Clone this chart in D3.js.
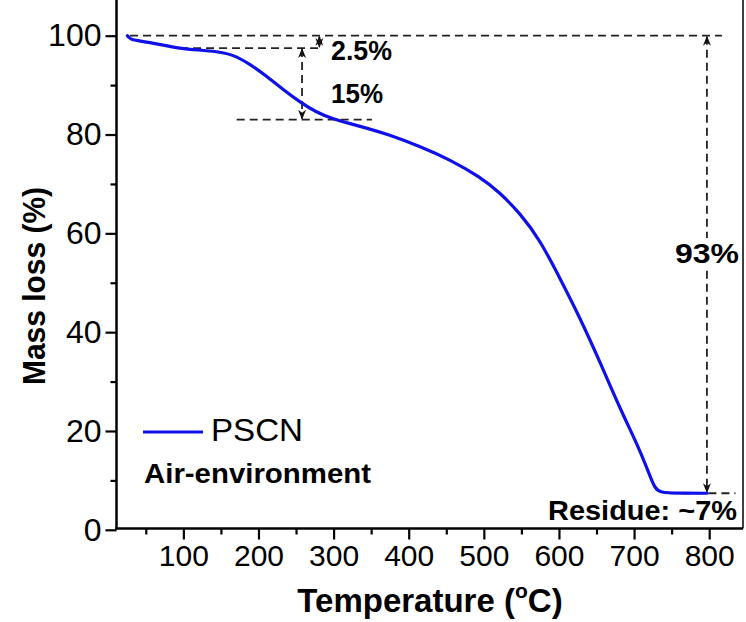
<!DOCTYPE html>
<html><head><meta charset="utf-8">
<script src="https://cdn.jsdelivr.net/npm/d3@7"></script>
<style>
html,body{margin:0;padding:0;background:#fff;}
svg{display:block;font-family:"Liberation Sans",Arial,sans-serif;}
</style></head>
<body>
<svg id="chart" width="746" height="622"></svg>
<script>
// ---- data ----
const temperature = [25.5, 28, 31, 40, 56, 69, 96, 120, 144, 166, 189, 211, 233, 255, 277, 300, 322, 344, 371, 415, 455, 495, 521, 548, 575, 601, 628, 654.5, 681, 708, 721, 727.6, 734, 760, 797];
const massLoss    = [100, 99.6, 99.2, 99.0, 98.6, 98.2, 97.4, 97.1, 96.8, 96.2, 94.2, 91.8, 89.1, 86.6, 84.5, 83.1, 82.2, 81.3, 80.1, 77.6, 74.9, 71.4, 68.3, 64.1, 58.6, 51.0, 42.9, 34.0, 24.6, 16.1, 10.9, 8.5, 7.5, 7.4, 7.4];
const xMajorTicks = [100, 200, 300, 400, 500, 600, 700, 800];
const xMinorTicks = [50, 150, 250, 350, 450, 550, 650, 750];
const yMajorTicks = [0, 20, 40, 60, 80, 100];
const yMinorTicks = [10, 30, 50, 70, 90];
const seriesName = "PSCN";
// annotation values (data space)
const initialMass = 100, stage1Mass = 97.5, stage2Mass = 83.0, residueMass = 7.4;
const stage1Label = "2.5%", stage2Label = "15%", totalLabel = "93%", residueLabel = "Residue: ~7%";

const svg = d3.select("#chart");
const x = d3.scaleLinear().domain([11, 845]).range([116.5, 743]);
const y = d3.scaleLinear().domain([0, 100]).range([529.8, 35.7]);
const axisY = 528.5;
const FONT = "Liberation Sans, Arial, sans-serif";

// defs: arrow markers
const defs = svg.append("defs");
["arrEnd","arrStart"].forEach((id,i)=>{
  defs.append("marker").attr("id",id).attr("viewBox","0 0 10 10")
    .attr("refX", 9).attr("refY",5).attr("markerWidth",10).attr("markerHeight",10)
    .attr("markerUnits","userSpaceOnUse")
    .attr("orient", i===0 ? "auto" : "auto-start-reverse")
    .append("path").attr("d","M0,1 L10,5 L0,9 L3,5 Z").attr("fill","#111");
});

// frame lines
svg.append("line").attr("x1",116.5).attr("x2",116.5).attr("y1",0).attr("y2",axisY+1)
  .attr("stroke","#000").attr("stroke-width",2.5);
svg.append("line").attr("x1",743).attr("x2",743).attr("y1",0).attr("y2",axisY)
  .attr("stroke","#000").attr("stroke-width",1.5);

// x axis
const xAxis = d3.axisBottom(x).tickValues(xMajorTicks).tickSize(11).tickSizeOuter(0).tickPadding(5);
const gx = svg.append("g").attr("transform",`translate(0,${axisY})`).call(xAxis);
gx.select(".domain").attr("stroke-width",2.5).attr("d",`M115.3,0H743`);
gx.selectAll(".tick line").attr("stroke-width",2.2);
gx.selectAll(".tick text").attr("font-size",30).attr("fill","#000").attr("font-family",FONT);
const gxm = svg.append("g").attr("transform",`translate(0,${axisY})`)
  .call(d3.axisBottom(x).tickValues(xMinorTicks).tickSize(6).tickFormat(""));
gxm.select(".domain").remove();
gxm.selectAll(".tick line").attr("stroke-width",2.2);

// y axis
const yAxis = d3.axisLeft(y).tickValues(yMajorTicks).tickSize(11).tickSizeOuter(0).tickPadding(4);
const gy = svg.append("g").attr("transform","translate(116.5,0)").call(yAxis);
gy.select(".domain").remove();
gy.selectAll(".tick line").attr("stroke-width",2.2);
gy.selectAll(".tick text").attr("font-size",32).attr("fill","#000").attr("font-family",FONT);
const gym = svg.append("g").attr("transform","translate(116.5,0)")
  .call(d3.axisLeft(y).tickValues(yMinorTicks).tickSize(6).tickFormat(""));
gym.select(".domain").remove();
gym.selectAll(".tick line").attr("stroke-width",2.2);

// annotations: dashed guide lines
const dash = {stroke:"#222","stroke-width":1.8,"stroke-dasharray":"8,5",fill:"none"};
function dline(x1,y1,x2,y2,markers){
  const l = svg.append("line").attr("x1",x1).attr("y1",y1).attr("x2",x2).attr("y2",y2);
  Object.entries(dash).forEach(([k,v])=>l.attr(k,v));
  if(markers){ l.attr("marker-start","url(#arrStart)").attr("marker-end","url(#arrEnd)"); }
  return l;
}
dline(x(29), y(initialMass), x(817), y(initialMass));
dline(x(95.6), y(stage1Mass), x(282), y(stage1Mass));
dline(x(171), y(stage2Mass), x(351), y(stage2Mass));
dline(x(747), y(residueMass), x(835), y(residueMass));
// arrows
dline(x(281), y(initialMass)+1, x(281), y(stage1Mass)-1, true).attr("stroke-dasharray","3,2");
dline(x(258), y(stage1Mass)+1, x(258), y(stage2Mass)-1, true);
dline(x(797), y(initialMass)+1, x(797), y(residueMass)-1, true);

// curve
const line = d3.line().x((d,i)=>x(temperature[i])).y(d=>y(d)).curve(d3.curveBasis);
svg.append("path").datum(massLoss).attr("d",line)
  .attr("fill","none").attr("stroke","#1010e8").attr("stroke-width",3.2)
  .attr("stroke-linejoin","round").attr("stroke-linecap","round");

// texts
function txt(s, xx, yy, size, weight, anchor, len){
  const t = svg.append("text").attr("x",xx).attr("y",yy).attr("font-size",size)
    .attr("font-weight",weight).attr("text-anchor",anchor||"start").attr("fill","#000").text(s);
  if(len) t.attr("textLength",len).attr("lengthAdjust","spacingAndGlyphs");
  return t;
}
txt(stage1Label, 331, 60, 27, "bold", "start", 61);
txt(stage2Label, 331, 103, 27, "bold", "start", 52);
// 93% with white background over the arrow
svg.append("rect").attr("x",x(797)-34).attr("y",238).attr("width",68).attr("height",30).attr("fill","#fff");
txt(totalLabel, x(797), 263, 27, "bold", "middle", 64);
txt(residueLabel, 548, 520, 28, "bold", "start", 189);

// legend
svg.append("line").attr("x1",143).attr("x2",203).attr("y1",432).attr("y2",432)
  .attr("stroke","#1010e8").attr("stroke-width",3.2);
txt(seriesName, 211, 441, 31, "normal", "start", 92);
txt("Air-environment", 144, 483, 27, "bold", "start", 227);

// axis titles
const xt = svg.append("text").attr("x",430).attr("y",612).attr("text-anchor","middle")
  .attr("font-size",33).attr("font-weight","bold").attr("fill","#000");
xt.append("tspan").text("Temperature (");
xt.append("tspan").attr("font-size",21).attr("dy",-14).text("o");
xt.append("tspan").attr("dy",14).text("C)");
svg.append("text").attr("transform","translate(45,286) rotate(-90)").attr("text-anchor","middle")
  .attr("font-size",32).attr("font-weight","bold").attr("fill","#000")
  .attr("textLength",198).attr("lengthAdjust","spacingAndGlyphs").text("Mass loss (%)");
</script>
</body></html>
